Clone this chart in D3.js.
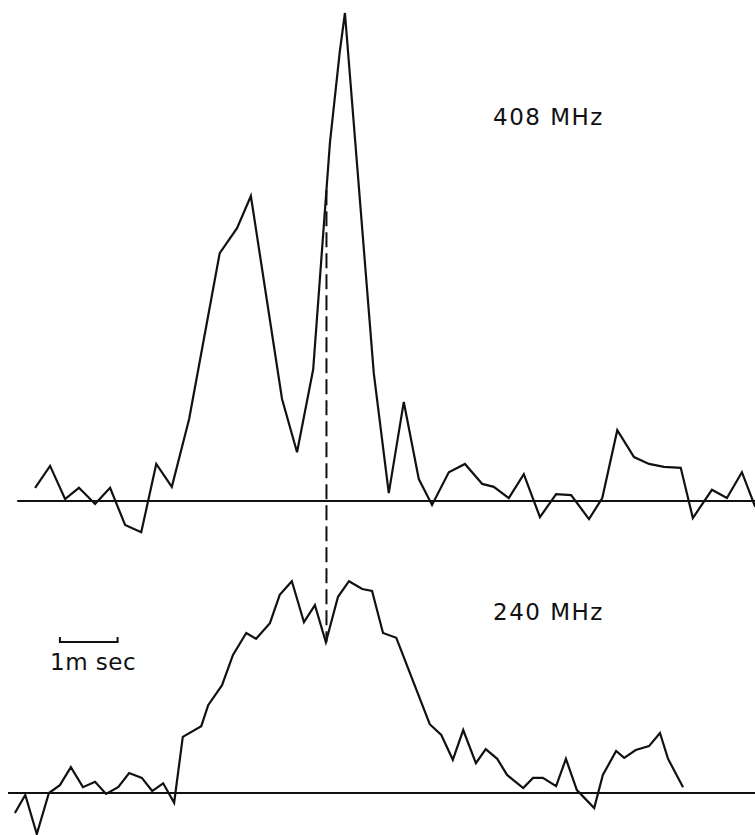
<!DOCTYPE html>
<html>
<head>
<meta charset="utf-8">
<script src="https://cdn.jsdelivr.net/npm/d3@7"></script>
<style>
  body { margin: 0; background: #fff; }
  .trace { fill: none; stroke: #111; stroke-width: 2.2; stroke-linejoin: miter; }
  .base { stroke: #111; stroke-width: 2; }
  .label { font-family: "DejaVu Sans", sans-serif; font-size: 23px; fill: #111; letter-spacing: 1.5px; }
</style>
</head>
<body>
<script>
var width = 755,
    height = 835;

// time in milliseconds, flux in relative units (408 MHz peak = 100)
var upperTime = [0.40, 0.66, 0.92, 1.16, 1.44, 1.70, 1.96, 2.24, 2.50, 2.77, 3.07, 3.60, 3.90, 4.14,
  4.68, 4.94, 5.22, 5.51, 5.68, 5.77, 6.27, 6.53, 6.79, 7.05, 7.28, 7.57, 7.85, 8.15, 8.35, 8.61,
  8.87, 9.15, 9.43, 9.69, 10.00, 10.23, 10.49, 10.78, 11.04, 11.30, 11.59, 11.80, 12.13, 12.39, 12.65, 12.88];
var upperFlux = [2.7, 7.2, 0.4, 2.7, -0.6, 2.7, -4.9, -6.4, 7.6, 2.9, 16.8, 50.8, 55.9, 62.5,
  20.9, 10.0, 27.0, 73.4, 92.0, 100, 26.2, 1.6, 20.3, 4.5, -0.8, 5.9, 7.6, 3.5, 2.9, 0.6,
  5.5, -3.3, 1.4, 1.2, -3.7, 0.6, 14.5, 9.0, 7.6, 7.0, 6.8, -3.5, 2.3, 0.6, 5.9, -1.2];

var lowerTime = [0.05, 0.23, 0.43, 0.64, 0.83, 1.02, 1.23, 1.44, 1.63, 1.84, 2.03, 2.25, 2.43, 2.62,
  2.81, 2.96, 3.28, 3.40, 3.64, 3.83, 4.06, 4.23, 4.47, 4.64, 4.85, 5.06, 5.25, 5.44, 5.65, 5.84,
  6.07, 6.24, 6.43, 6.66, 7.24, 7.44, 7.64, 7.82, 8.04, 8.21, 8.41, 8.58, 8.86, 9.03, 9.20, 9.43,
  9.60, 9.79, 10.09, 10.24, 10.47, 10.61, 10.81, 11.04, 11.23, 11.37, 11.63];
var lowerFlux = [-4.1, -0.4, -8.4, 0, 1.6, 5.3, 1.2, 2.3, -0.2, 1.2, 4.1, 3.1, 0.4, 2.0,
  -2.0, 11.5, 13.7, 18.0, 22.1, 28.3, 32.8, 31.6, 34.8, 40.6, 43.4, 35.0, 38.5, 30.9, 40.2, 43.4,
  41.8, 41.4, 32.8, 31.8, 14.1, 11.9, 6.8, 12.9, 6.1, 9.0, 7.0, 3.7, 1.0, 3.1, 3.1, 1.4,
  7.0, 0.6, -3.1, 3.7, 8.6, 7.2, 8.8, 9.6, 12.3, 7.0, 1.2];

var bandLabels = ['408 MHz', '240 MHz'];
var dipTime = 5.45;       // common dip marked by the dashed line
var dashTop = 63.7;       // top of dashed line on the 408 MHz scale
var scaleBarStart = 0.83; // 1 ms scale bar

var svg = d3.select('body').append('svg')
    .attr('width', width)
    .attr('height', height);

var x = d3.scaleLinear().domain([0, 13]).range([12, 12 + 13 * 57.7]);
var yTop = d3.scaleLinear().domain([0, 100]).range([501, 13]);
var yBot = d3.scaleLinear().domain([0, 100]).range([793, 305]);

var upper = upperTime.map(function(t, i) { return [t, upperFlux[i]]; });
var lower = lowerTime.map(function(t, i) { return [t, lowerFlux[i]]; });

// zero lines
svg.append('line').attr('class', 'base')
    .attr('x1', x(0.09)).attr('x2', x(12.88))
    .attr('y1', yTop(0)).attr('y2', yTop(0));
svg.append('line').attr('class', 'base')
    .attr('x1', x(-0.07)).attr('x2', x(12.88))
    .attr('y1', yBot(0)).attr('y2', yBot(0));

// dashed line linking the dips
svg.append('line')
    .attr('x1', x(dipTime)).attr('x2', x(dipTime))
    .attr('y1', yTop(dashTop)).attr('y2', yBot(30.9))
    .attr('stroke', '#111').attr('stroke-width', 2)
    .attr('stroke-dasharray', '15,6');

var lineTop = d3.line().x(function(d) { return x(d[0]); }).y(function(d) { return yTop(d[1]); });
var lineBot = d3.line().x(function(d) { return x(d[0]); }).y(function(d) { return yBot(d[1]); });

svg.append('path').attr('class', 'trace').attr('d', lineTop(upper));
svg.append('path').attr('class', 'trace').attr('d', lineBot(lower));

// band labels
svg.append('text').attr('class', 'label')
    .attr('x', 493).attr('y', yTop(77))
    .text(bandLabels[0]);
svg.append('text').attr('class', 'label')
    .attr('x', 493).attr('y', yBot(35.5))
    .text(bandLabels[1]);

// 1 ms scale bar
var sb = svg.append('g');
var sy = 642;
sb.append('path')
    .attr('d', 'M' + x(scaleBarStart) + ',' + (sy - 5) + 'V' + sy + 'H' + x(scaleBarStart + 1) + 'V' + (sy - 5))
    .attr('fill', 'none').attr('stroke', '#111').attr('stroke-width', 2);
sb.append('text').attr('class', 'label')
    .attr('x', 50).attr('y', 670)
    .style('letter-spacing', '0.5px')
    .text('1m sec');
</script>
</body>
</html>
